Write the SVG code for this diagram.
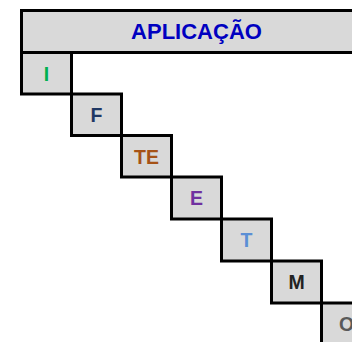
<svg xmlns="http://www.w3.org/2000/svg" width="352" height="342" viewBox="0 0 352 342">
<style>
.c{fill:#d9d9d9;stroke:#000;stroke-width:3}
.t{font-family:"Liberation Sans",Arial,sans-serif;font-weight:bold;font-size:19.5px;text-anchor:middle}
</style>
<rect width="352" height="342" fill="#fff"/>
<g id="header">
<rect class="c" x="21.5" y="10.5" width="360" height="42"/>
<text class="t" x="196.5" y="38.5" style="font-size:22px" fill="#0000c0">APLICAÇÃO</text>
</g>
<g id="node-I">
<rect class="c" x="21.5" y="52.5" width="50" height="41.5"/>
<text class="t" x="46.5" y="80.5" fill="#00b050">I</text>
</g>
<g id="node-F">
<rect class="c" x="71.5" y="94" width="50" height="41.5"/>
<text class="t" x="96.5" y="122" fill="#1f3864">F</text>
</g>
<g id="node-TE">
<rect class="c" x="121.5" y="135.5" width="50" height="41.5"/>
<text class="t" x="146.5" y="164" fill="#a65216">TE</text>
</g>
<g id="node-E">
<rect class="c" x="171.5" y="177" width="50" height="42"/>
<text class="t" x="196.5" y="205" fill="#7030a0">E</text>
</g>
<g id="node-T">
<rect class="c" x="221.5" y="219" width="50" height="42"/>
<text class="t" x="246.5" y="247" fill="#5b8fd5">T</text>
</g>
<g id="node-M">
<rect class="c" x="271.5" y="261" width="50" height="42"/>
<text class="t" x="296.5" y="289" fill="#222">M</text>
</g>
<g id="node-O">
<rect class="c" x="321.5" y="303" width="50" height="42"/>
<text class="t" x="346.5" y="331" fill="#595959">O</text>
</g>
<g id="connectors"></g>
</svg>
